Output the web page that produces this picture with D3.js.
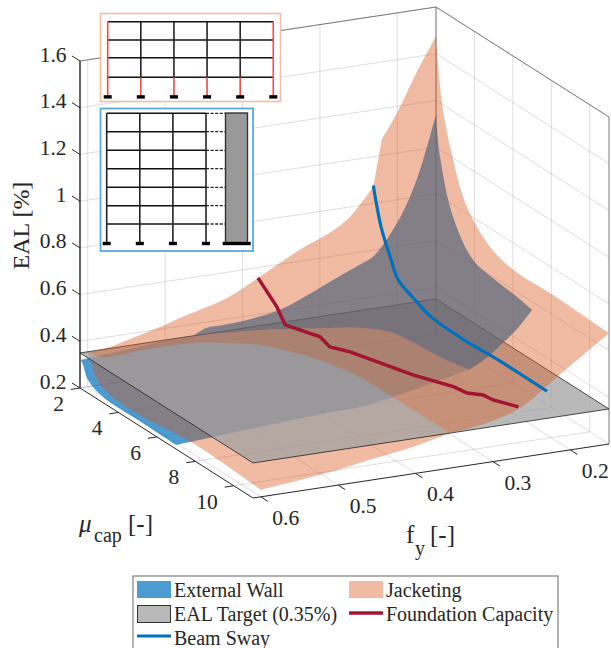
<!DOCTYPE html>
<html>
<head>
<meta charset="utf-8">
<script src="https://cdnjs.cloudflare.com/ajax/libs/d3/7.8.5/d3.min.js"></script>
<style>
html, body { margin: 0; padding: 0; background: #fff; }
svg { display: block; }
text { font-family: "Liberation Serif", serif; fill: #262626; }
</style>
</head>
<body>
<div id="chart"></div>
<script>
const width = 611
const height = 648

// tick labels
const fyTicks = [0.2, 0.3, 0.4, 0.5, 0.6]
const muTicks = [2, 4, 6, 8, 10]
const ealTicks = [0.2, 0.4, 0.6, 0.8, 1, 1.2, 1.4, 1.6]
const ealTarget = 0.35

// all surface edges below are [fy, mu, EAL], each runs corner to corner
const jacketMu2 = [[.60,2,.35],[.58,2,.352],[.549,2,.374],[.50,2,.415],[.481,2,.435],[.42,2,.49],[.38,2,.556],[.326,2,.649],[.287,2,.703],[.261,2,.758],[.231,2,.872]]
const jacketMu2Top = [[.231,2,.872],[.22,2,1.068]]
const jacketMu2Peak = [[.22,2,1.068],[.20,2,1.174],[.175,2,1.333],[.15,2,1.475]]
const jacketFyMin = [[.15,2,1.475],[.15,2.1,1.368],[.15,2.36,1.18],[.15,2.885,.993],[.15,3.4,.862],[.15,3.93,.79],[.15,4.81,.72],[.15,6,.685],[.15,8.3,.685],[.15,11,.674]]
const jacketMu11Above = [[.15,11,.674],[.217,11,.521],[.265,11,.412],[.304,11,.372],[.355,11,.35]]
const jacketMu11Below = [[.355,11,.35],[.403,11,.315],[.468,11,.283],[.51,11,.261],[.60,11,.23]]
const jacketFyMax = [[.6,11,.23],[.6,7.46,.245],[.6,4.88,.221],[.6,3.16,.226],[.6,2.48,.255],[.6,2.12,.321],[.6,2,.35]]
const jacketCut = [[.60,2,.35],[.593,2.5,.35],[.539,2.43,.35],[.476,2.47,.35],[.44,2.81,.35],[.409,3.28,.35],[.377,4.57,.35],[.357,6.39,.35],[.356,8.04,.35],[.355,11,.35]]

const wallMu2Below = [[.61,2,.32],[.55,2,.334],[.494,2,.348],[.463,2,.35]]
const wallMu2Above = [[.463,2,.35],[.446,2,.375],[.425,2,.377],[.394,2,.383],[.352,2,.405],[.309,2,.46],[.278,2,.505],[.244,2,.552],[.231,2,.572],[.2,2,.702],[.175,2,.873],[.15,2,1.14]]
const wallFyMin = [[.15,2,1.14],[.15,2.21,.97],[.15,2.885,.748],[.15,3.93,.618],[.15,5.07,.593],[.15,6.21,.58],[.15,7,.565]]
const wallMu7Above = [[.15,7,.565],[.168,7,.497],[.188,7,.442],[.209,7,.389],[.231,7,.35]]
const wallMu7Below = [[.231,7,.35],[.33,7,.282],[.372,7,.261],[.415,7,.257],[.562,7,.228],[.61,7,.218]]
const wallFyMax = [[.61,7,.218],[.61,5.28,.221],[.61,3.2,.224],[.61,2.42,.256],[.61,2.1,.317],[.61,2,.32]]
const wallCut = [[.463,2,.35],[.385,2.28,.35],[.308,2.85,.35],[.274,3.18,.35],[.252,3.72,.35],[.245,4.61,.35],[.241,5.87,.35],[.231,7,.35]]

const beamSway = [[.231,2,.876],[.23,2.36,.719],[.23,2.885,.604],[.23,3.25,.538],[.23,4.08,.50],[.23,4.97,.469],[.23,6.68,.46],[.23,8.45,.467],[.23,11,.466]]
const foundation = [[.38,2,.556],[.372,2.66,.462],[.368,2.93,.397],[.362,3.45,.40],[.353,4.14,.402],[.349,4.49,.375],[.34,5.18,.385],[.327,6.22,.386],[.313,7.36,.387],[.295,8.74,.40],[.289,9.22,.395],[.282,9.77,.412],[.278,10.12,.407],[.267,11,.418]]

const legendRows = ["External Wall", "EAL Target (0.35%)", "Beam Sway"]
const legendRows2 = ["Jacketing", "Foundation Capacity"]

const blue = "rgb(0,114,189)"
const orange = "rgb(217,83,25)"
const red = "rgb(162,20,47)"
const planeFill = "rgb(161,161,161)"

const svg = d3.select("div#chart").append("svg").attr("width", width).attr("height", height)

// fixed 3d view, each axis gets a pair of scales for its screen offset
const fyDomain = [0.61, 0.15]
const muDomain = [2, 11]
const ealDomain = [0.2, 1.6]
const fyX = d3.scaleLinear().domain(fyDomain).range([0, 356])
const fyY = d3.scaleLinear().domain(fyDomain).range([0, -54])
const muX = d3.scaleLinear().domain(muDomain).range([0, 173])
const muY = d3.scaleLinear().domain(muDomain).range([0, 110])
const ealY = d3.scaleLinear().domain(ealDomain).range([0, -327])

const px = (fy, mu) => 80 + fyX(fy) + muX(mu)
const py = (fy, mu, eal) => 388 + fyY(fy) + muY(mu) + ealY(eal)
const path3 = d3.line().x(d => px(d[0], d[1])).y(d => py(d[0], d[1], d[2]))
const smooth3 = d3.line().x(d => px(d[0], d[1])).y(d => py(d[0], d[1], d[2])).curve(d3.curveCatmullRom.alpha(0.5))

const fyLo = fyDomain[1], fyHi = fyDomain[0], muLo = muDomain[0], muHi = muDomain[1], eLo = ealDomain[0], eHi = ealDomain[1]

const seg = (g, a, b) => g.append("path").attr("d", path3([a, b]))

// grid
const grid = svg.append("g").attr("fill", "none").attr("stroke", "#000").attr("stroke-opacity", 0.13).attr("stroke-width", 1)
ealTicks.forEach(z => {
    seg(grid, [fyHi, muLo, z], [fyLo, muLo, z])
    seg(grid, [fyLo, muLo, z], [fyLo, muHi, z])
})
fyTicks.forEach(f => {
    seg(grid, [f, muLo, eLo], [f, muLo, eHi])
    seg(grid, [f, muLo, eLo], [f, muHi, eLo])
})
muTicks.forEach(m => {
    seg(grid, [fyLo, m, eLo], [fyLo, m, eHi])
    seg(grid, [fyHi, m, eLo], [fyLo, m, eLo])
})

// box
const box = svg.append("g").attr("fill", "none").attr("stroke", "#7a7a7a").attr("stroke-width", 1)
seg(box, [fyHi, muLo, eHi], [fyLo, muLo, eHi])
seg(box, [fyLo, muLo, eHi], [fyLo, muHi, eHi])
seg(box, [fyLo, muLo, eLo], [fyLo, muLo, eHi])
seg(box, [fyLo, muHi, eLo], [fyLo, muHi, eHi])

// axes
const axes = svg.append("g").attr("fill", "none").attr("stroke", "#262626").attr("stroke-width", 1)
seg(axes, [fyHi, muLo, eLo], [fyHi, muLo, eHi]).attr("stroke-width", 1.6).attr("stroke", "#3c3c3c")
seg(axes, [fyHi, muLo, eLo], [fyHi, muHi, eLo])
seg(axes, [fyHi, muHi, eLo], [fyLo, muHi, eLo])

ealTicks.forEach(z => {
    const x = px(fyHi, muLo), y = py(fyHi, muLo, z)
    axes.append("line").attr("x1", x - 8).attr("y1", y - 5).attr("x2", x).attr("y2", y)
    svg.append("text").attr("x", x - 13.5).attr("y", y - 6.5).attr("text-anchor", "end")
        .attr("dominant-baseline", "central").attr("font-size", 21.5).text(z)
})
muTicks.forEach(m => {
    const x = px(fyHi, m), y = py(fyHi, m, eLo)
    axes.append("line").attr("x1", x - 9).attr("y1", y + 1.4).attr("x2", x).attr("y2", y)
    svg.append("text").attr("x", x - 16).attr("y", y + 16).attr("text-anchor", "end")
        .attr("dominant-baseline", "central").attr("font-size", 21.5).text(m)
})
fyTicks.forEach(f => {
    const x = px(f, muHi), y = py(f, muHi, eLo)
    axes.append("line").attr("x1", x).attr("y1", y).attr("x2", x + 7).attr("y2", y + 4.5)
    svg.append("text").attr("x", x + 25).attr("y", y + 21).attr("text-anchor", "middle")
        .attr("dominant-baseline", "central").attr("font-size", 21.5).text(f.toFixed(1))
})

// surfaces, split at the target plane so the plane can go between the parts
const outline = edges => edges.map((e, i) => i ? smooth3(e).replace("M", "L") : smooth3(e)).join("") + "Z"
const back = a => a.slice().reverse()

const poly = (d, fill, op) => svg.append("path").attr("d", d)
    .attr("fill", fill).attr("fill-opacity", op).attr("stroke", "none")

poly(outline([wallMu2Below, wallCut, wallMu7Below, wallFyMax]), blue, 0.7)
poly(outline([jacketCut, jacketMu11Below, jacketFyMax]), orange, 0.4)
poly(path3([[fyHi, muLo, ealTarget], [fyLo, muLo, ealTarget], [fyLo, muHi, ealTarget], [fyHi, muHi, ealTarget]]) + "Z", planeFill, 0.75)
    .attr("stroke", "#222").attr("stroke-width", 0.8)
poly(outline([wallMu2Above, wallFyMin, wallMu7Above, back(wallCut)]), blue, 0.7)
poly(outline([jacketMu2, jacketMu2Top, jacketMu2Peak, jacketFyMin, jacketMu11Above, back(jacketCut)]), orange, 0.4)

svg.append("path").attr("d", smooth3(beamSway)).attr("fill", "none").attr("stroke", blue).attr("stroke-width", 3.2)
svg.append("path").attr("d", path3(foundation)).attr("fill", "none").attr("stroke", red).attr("stroke-width", 3.4)

// axis titles
svg.append("text").attr("transform", "translate(29,225.5) rotate(-90)").attr("text-anchor", "middle")
    .attr("font-size", 24).text("EAL [%]")

const muLabel = svg.append("g")
muLabel.append("text").attr("x", 79).attr("y", 532).attr("font-size", 25).attr("font-style", "italic").text("\u03bc")
muLabel.append("text").attr("x", 94).attr("y", 542).attr("font-size", 20).text("cap")
muLabel.append("text").attr("x", 128).attr("y", 532).attr("font-size", 25).text("[-]")

const fyLabel = svg.append("g")
fyLabel.append("text").attr("x", 406).attr("y", 543).attr("font-size", 25).text("f")
fyLabel.append("text").attr("x", 415).attr("y", 555).attr("font-size", 20).text("y")
fyLabel.append("text").attr("x", 430).attr("y", 543).attr("font-size", 25).text("[-]")

// frame sketch, jacketing
const frameA = svg.append("g")
frameA.append("rect").attr("x", 100.5).attr("y", 13.5).attr("width", 180).attr("height", 88)
    .attr("fill", "#fff").attr("stroke", "#f3bda5").attr("stroke-width", 1.6)
const bayA = d3.scaleLinear().domain([0, 5]).range([107.7, 273.3])
const floorsA = [21.7, 40, 57.7, 77.3]
const footA = 96.7
floorsA.forEach(y => frameA.append("line").attr("x1", bayA(0)).attr("x2", bayA(5)).attr("y1", y).attr("y2", y)
    .attr("stroke", "#111").attr("stroke-width", 1.4))
d3.range(6).forEach(i => {
    const outer = i === 0 || i === 5
    frameA.append("line").attr("x1", bayA(i)).attr("x2", bayA(i)).attr("y1", floorsA[0]).attr("y2", floorsA[3])
        .attr("stroke", outer ? "#f0474a" : "#222").attr("stroke-width", 1.6)
    frameA.append("line").attr("x1", bayA(i)).attr("x2", bayA(i)).attr("y1", floorsA[3]).attr("y2", footA)
        .attr("stroke", "#f0474a").attr("stroke-width", 1.6)
    frameA.append("rect").attr("x", bayA(i) - 4).attr("y", footA - 1.5).attr("width", 8).attr("height", 3.4).attr("fill", "#000")
})

// frame sketch, external wall
const frameB = svg.append("g")
frameB.append("rect").attr("x", 100.5).attr("y", 108.5).attr("width", 152.5).attr("height", 142.5)
    .attr("fill", "#fff").attr("stroke", "#5aa9e0").attr("stroke-width", 1.8)
const bayB = d3.scaleLinear().domain([0, 3]).range([106.7, 206])
const floorsB = [113.3, 131.7, 150.3, 168.7, 187.3, 205.7, 224]
const footB = 243.3
floorsB.forEach(y => {
    frameB.append("line").attr("x1", bayB(0)).attr("x2", bayB(3)).attr("y1", y).attr("y2", y)
        .attr("stroke", "#111").attr("stroke-width", 1.4)
    frameB.append("line").attr("x1", bayB(3)).attr("x2", 225).attr("y1", y).attr("y2", y)
        .attr("stroke", "#222").attr("stroke-width", 1.3).attr("stroke-dasharray", "3 1.6")
})
d3.range(4).forEach(i => {
    frameB.append("line").attr("x1", bayB(i)).attr("x2", bayB(i)).attr("y1", floorsB[0]).attr("y2", footB)
        .attr("stroke", "#222").attr("stroke-width", 1.6)
    frameB.append("rect").attr("x", bayB(i) - 4).attr("y", footB - 1.5).attr("width", 8).attr("height", 3.4).attr("fill", "#000")
})
frameB.append("rect").attr("x", 225.5).attr("y", 113).attr("width", 22).attr("height", 130)
    .attr("fill", "#999").attr("stroke", "#333").attr("stroke-width", 1.4)
frameB.append("rect").attr("x", 222.7).attr("y", footB - 1.5).attr("width", 28).attr("height", 3.4).attr("fill", "#000")

// legend
const legend = svg.append("g")
legend.append("rect").attr("x", 133).attr("y", 576).attr("width", 425).attr("height", 80)
    .attr("fill", "#fff").attr("stroke", "#666").attr("stroke-width", 1)
const rowY = d3.scaleLinear().domain([0, 2]).range([590, 638])
legend.append("rect").attr("x", 137).attr("y", rowY(0) - 9).attr("width", 34).attr("height", 17).attr("fill", blue).attr("fill-opacity", 0.7)
legend.append("rect").attr("x", 137.5).attr("y", rowY(1) - 8.5).attr("width", 33).attr("height", 17).attr("fill", planeFill).attr("fill-opacity", 0.75).attr("stroke", "#333")
legend.append("line").attr("x1", 137).attr("x2", 171).attr("y1", rowY(2) - 2).attr("y2", rowY(2) - 2).attr("stroke", blue).attr("stroke-width", 3.2)
legend.append("rect").attr("x", 349).attr("y", rowY(0) - 9).attr("width", 34).attr("height", 17).attr("fill", orange).attr("fill-opacity", 0.4)
legend.append("line").attr("x1", 349).attr("x2", 383).attr("y1", rowY(1) - 1).attr("y2", rowY(1) - 1).attr("stroke", red).attr("stroke-width", 3.4)
legendRows.forEach((t, i) => legend.append("text").attr("x", 174).attr("y", rowY(i)).attr("dominant-baseline", "central")
    .attr("font-size", 20).attr("fill", "#111").text(t))
legendRows2.forEach((t, i) => legend.append("text").attr("x", 386).attr("y", rowY(i)).attr("dominant-baseline", "central")
    .attr("font-size", 20).attr("fill", "#111").text(t))
</script>
</body>
</html>
